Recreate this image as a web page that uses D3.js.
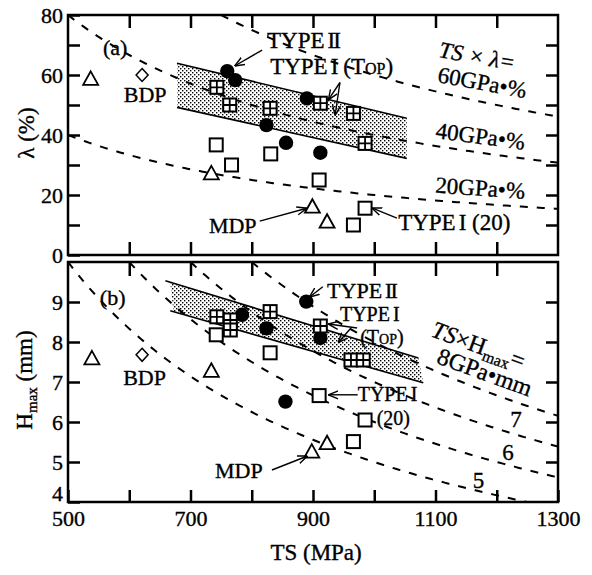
<!DOCTYPE html>
<html lang="en">
<head>
<meta charset="UTF-8">
<title>TS vs elongation and Hmax</title>
<script src="https://d3js.org/d3.v7.min.js"></script>
<style>
  body { margin: 0; background: #fff; }
  svg text { font-family: "Liberation Serif", "Times New Roman", serif; fill: #000; stroke: #000; stroke-width: 0.35; }
  .frame { fill: none; stroke: #000; stroke-width: 2.5; }
  .axis path { display: none; }
  .axis line { stroke: #000; stroke-width: 2.5; }
  .axis text { font-size: 22px; font-family: "Liberation Serif", serif; }
  .guide { fill: none; stroke: #000; stroke-width: 2; stroke-dasharray: 8,9; }
  .band { fill: url(#dots); stroke: none; }
  .bandEdge { fill: none; stroke: #000; stroke-width: 1.6; }
  .lbl { font-size: 23px; }
  .arrow { stroke: #000; stroke-width: 1.4; fill: none; }
</style>
</head>
<body>
<script>
// ---- data ----
var tsLabels = [500, 700, 900, 1100, 1300];
var lambdaLabels = [0, 20, 40, 60, 80];
var hLabels = [4, 5, 6, 7, 8, 9];

// TS x lambda = const (MPa x %), TS x Hmax = const (MPa x mm)
var isoA = [20000, 40000, 60000];
var isoB = [5000, 6000, 7000, 8000];

// panel (a): [TS, lambda]
var aTriangle = [[537, 58.7], [734, 27.2], [899, 16.1], [923, 11.1]];
var aDiamond = [[621, 60]];
var aSquare = [[742, 36.7], [767, 30], [831, 33.7], [910, 25], [966, 10], [985, 15.6]];
var aCircle = [[760, 61.3], [773, 58.3], [824, 43.3], [856, 37.4], [890, 52.2], [912, 34.1]];
var aCross = [[743, 55.9], [764, 50], [830, 48.9], [912, 50.6], [966, 47.2], [985, 37.2]];
var aBand = [[678, 63.9], [1053, 45.6], [1053, 32.2], [678, 49.2]];

// panel (b): [TS, Hmax]
var bTriangle = [[539, 7.59], [734, 7.28], [898, 5.26], [923, 5.47]];
var bDiamond = [[621, 7.68]];
var bSquare = [[742, 8.18], [830, 7.73], [910, 6.66], [985, 6.05], [966, 5.51]];
var bCircle = [[784, 8.68], [824, 8.34], [855, 6.51], [889, 9.01], [912, 8.1]];
var bCross = [[743, 8.63], [765, 8.55], [765, 8.3], [830, 8.76], [912, 8.4], [962, 7.55], [982, 7.55]];
var bBand = [[667, 9.5], [1072, 7.6], [1080, 6.98], [672, 8.78]];
var bBandTop = [[659, 9.53], [1072, 7.6]];
var bBandLow = [[667, 8.78], [1080, 6.98]];

var W = 592, H = 575;
var svg = d3.select("body").append("svg").attr("width", W).attr("height", H);

var x = d3.scaleLinear().domain([500, 1300]).range([68, 558]);
var ya = d3.scaleLinear().domain([0, 80]).range([255, 15]);
var yb = d3.scaleLinear().domain([4, 10]).range([502, 262]);

var defs = svg.append("defs");
var pat = defs.append("pattern").attr("id", "dots").attr("patternUnits", "userSpaceOnUse")
    .attr("width", 4).attr("height", 4);
pat.append("rect").attr("width", 4).attr("height", 4).attr("fill", "#fff");
pat.append("rect").attr("x", 0).attr("y", 0).attr("width", 1.4).attr("height", 1.4).attr("fill", "#000");
pat.append("rect").attr("x", 2).attr("y", 2).attr("width", 1.4).attr("height", 1.4).attr("fill", "#000");

defs.append("marker").attr("id", "head").attr("viewBox", "0 0 10 10")
    .attr("refX", 10).attr("refY", 5).attr("markerWidth", 10).attr("markerHeight", 10)
    .attr("markerUnits", "userSpaceOnUse").attr("orient", "auto")
  .append("path").attr("d", "M0,1L10,5L0,9").attr("fill", "none").attr("stroke", "#000").attr("stroke-width", 1.4);

defs.append("clipPath").attr("id", "clipA").append("rect")
    .attr("x", x(500)).attr("y", ya(80)).attr("width", x(1300) - x(500)).attr("height", ya(0) - ya(80));
defs.append("clipPath").attr("id", "clipB").append("rect")
    .attr("x", x(500)).attr("y", yb(10)).attr("width", x(1300) - x(500)).attr("height", yb(4) - yb(10));

var line = function (ys) {
  return d3.line().x(function (d) { return x(d[0]); }).y(function (d) { return ys(d[1]); });
};

function isoCurve(c, ys, top) {
  var t0 = Math.max(500, c / top);
  return d3.range(t0, 1301, 5).map(function (t) { return [t, c / t]; });
}

function panel(ys, clipId, band, bandTop, bandLow, iso, top) {
  var g = svg.append("g").attr("clip-path", "url(#" + clipId + ")");
  g.append("path").attr("class", "band").attr("d", line(ys)(band) + "Z");
  g.append("path").attr("class", "bandEdge").attr("d", line(ys)(bandTop));
  g.append("path").attr("class", "bandEdge").attr("d", line(ys)(bandLow));
  iso.forEach(function (c) {
    g.append("path").attr("class", "guide").attr("d", line(ys)(isoCurve(c, ys, top)));
  });
  return g;
}

function markers(g, ys, tri, dia, sq, circ, cross) {
  g.selectAll(null).data(tri).enter().append("path")
    .attr("d", function (d) {
      var cx = x(d[0]), cy = ys(d[1]);
      return "M" + cx + "," + (cy - 7.5) + "L" + (cx + 7.5) + "," + (cy + 6) + "L" + (cx - 7.5) + "," + (cy + 6) + "Z";
    })
    .attr("fill", "#fff").attr("stroke", "#000").attr("stroke-width", 1.8);
  g.selectAll(null).data(dia).enter().append("path")
    .attr("d", function (d) {
      var cx = x(d[0]), cy = ys(d[1]);
      return "M" + cx + "," + (cy - 6.5) + "L" + (cx + 6) + "," + cy + "L" + cx + "," + (cy + 6.5) + "L" + (cx - 6) + "," + cy + "Z";
    })
    .attr("fill", "#fff").attr("stroke", "#000").attr("stroke-width", 1.5);
  g.selectAll(null).data(circ).enter().append("circle")
    .attr("cx", function (d) { return x(d[0]); }).attr("cy", function (d) { return ys(d[1]); })
    .attr("r", 7.2).attr("fill", "#000");
  g.selectAll(null).data(sq).enter().append("rect")
    .attr("x", function (d) { return x(d[0]) - 6.5; }).attr("y", function (d) { return ys(d[1]) - 6.5; })
    .attr("width", 13).attr("height", 13)
    .attr("fill", "#fff").attr("stroke", "#000").attr("stroke-width", 2);
  var cg = g.selectAll(null).data(cross).enter().append("g")
    .attr("transform", function (d) { return "translate(" + x(d[0]) + "," + ys(d[1]) + ")"; });
  cg.append("rect").attr("x", -6.5).attr("y", -6.5).attr("width", 13).attr("height", 13)
    .attr("fill", "#fff").attr("stroke", "#000").attr("stroke-width", 2);
  cg.append("path").attr("d", "M0,-6.5V6.5M-6.5,0H6.5").attr("stroke", "#000").attr("stroke-width", 1.8);
}

// ---- panel (a) ----
panel(ya, "clipA", aBand, [aBand[0], aBand[1]], [aBand[3], aBand[2]], isoA, 80);
markers(svg.append("g"), ya, aTriangle, aDiamond, aSquare, aCircle, aCross);

// ---- panel (b) ----
panel(yb, "clipB", bBand, bBandTop, bBandLow, isoB, 10);
markers(svg.append("g"), yb, bTriangle, bDiamond, bSquare, bCircle, bCross);

// ---- frames & axes ----
svg.append("rect").attr("class", "frame").attr("x", x(500)).attr("y", ya(80))
  .attr("width", x(1300) - x(500)).attr("height", ya(0) - ya(80));
svg.append("rect").attr("class", "frame").attr("x", x(500)).attr("y", yb(10))
  .attr("width", x(1300) - x(500)).attr("height", yb(4) - yb(10));

var midTs = d3.range(600, 1300, 100);
var allTs = d3.range(500, 1301, 100);

svg.append("g").attr("class", "axis").attr("transform", "translate(" + x(500) + ",0)")
  .call(d3.axisLeft(ya).tickValues(d3.range(0, 81, 10)).tickSize(-12).tickPadding(5)
    .tickFormat(function (d) { return lambdaLabels.indexOf(d) >= 0 ? d : ""; }));
svg.append("g").attr("class", "axis").attr("transform", "translate(" + x(1300) + ",0)")
  .call(d3.axisRight(ya).tickValues(d3.range(10, 80, 10)).tickSize(-12).tickFormat(""));
svg.append("g").attr("class", "axis").attr("transform", "translate(0," + ya(80) + ")")
  .call(d3.axisTop(x).tickValues(midTs).tickSize(-13).tickFormat(""));
svg.append("g").attr("class", "axis").attr("transform", "translate(0," + ya(0) + ")")
  .call(d3.axisBottom(x).tickValues(midTs).tickSize(-13).tickFormat(""));

var lb = svg.append("g").attr("class", "axis").attr("transform", "translate(" + x(500) + ",0)")
  .call(d3.axisLeft(yb).tickValues(hLabels).tickSize(-12).tickPadding(5).tickFormat(d3.format("d")));
lb.selectAll(".tick text").filter(function (d) { return d === 4; }).attr("dy", "-0.05em");
svg.append("g").attr("class", "axis").attr("transform", "translate(" + x(1300) + ",0)")
  .call(d3.axisRight(yb).tickValues([5, 6, 7, 8, 9]).tickSize(-12).tickFormat(""));
svg.append("g").attr("class", "axis").attr("transform", "translate(0," + yb(10) + ")")
  .call(d3.axisTop(x).tickValues(midTs).tickSize(-14).tickFormat(""));
svg.append("g").attr("class", "axis").attr("transform", "translate(0," + yb(4) + ")")
  .call(d3.axisBottom(x).tickValues(allTs).tickSize(-12).tickPadding(8)
    .tickFormat(function (d) { return tsLabels.indexOf(d) >= 0 ? d : ""; }));

// ---- axis titles ----
svg.append("text").attr("class", "lbl").attr("text-anchor", "middle")
  .attr("transform", "translate(34,133) rotate(-90)").text("λ (%)");
var ht = svg.append("text").attr("class", "lbl").attr("text-anchor", "middle")
  .attr("transform", "translate(32,380) rotate(-90)");
ht.append("tspan").text("H");
ht.append("tspan").attr("font-size", 15).attr("dy", 5).text("max");
ht.append("tspan").attr("dy", -5).text(" (mm)");
svg.append("text").attr("class", "lbl").attr("text-anchor", "middle")
  .attr("x", x(905)).attr("y", 560).text("TS (MPa)");

// ---- annotations ----
function label(ys, ts, v, txt, rot, size) {
  var t = svg.append("text").attr("class", "lbl")
    .attr("transform", "translate(" + x(ts) + "," + ys(v) + ")" + (rot ? " rotate(" + rot + ")" : ""));
  if (size) t.style("font-size", size + "px");
  if (txt !== null) t.text(txt);
  return t;
}
function arrow(ys, a, b) {
  svg.append("path").attr("class", "arrow").attr("marker-end", "url(#head)")
    .attr("d", line(ys)([a, b]));
}

label(ya, 557, 66.7, "(a)", 0, 22);
label(ya, 591, 51, "BDP", 0, 22);
var t2 = label(ya, 825, 69, "TYPE");
t2.append("tspan").attr("dx", 3).attr("letter-spacing", -2).text("II");
arrow(ya, [817, 68.3], [772, 63]);
var t1 = label(ya, 830, 60.5, "TYPE");
t1.append("tspan").attr("dx", 3).text("I");
t1.append("tspan").attr("dx", 5).style("font-variant", "small-caps").text("(Top)");
arrow(ya, [944, 57.5], [925, 51.7]);
arrow(ya, [944, 57.5], [936, 46.5]);
label(ya, 730, 7.3, "MDP", 0, 22);
arrow(ya, [813, 11.3], [890, 15.6]);
var t20 = label(ya, 1039, 8.3, "TYPE");
t20.append("tspan").attr("dx", 3).text("I (20)");
arrow(ya, [1037, 12.3], [996, 15.7]);
label(ya, 1104, 66, "TS × λ=", 10).style("font-style", "italic");
label(ya, 1102, 57.7, "60GPa•%", 10.5);
label(ya, 1099, 39, "40GPa•%", 7.5);
label(ya, 1099, 20.8, "20GPa•%", 4);

label(yb, 552, 8.93, "(b)", 0, 22);
label(yb, 590, 6.93, "BDP", 0, 22);
label(yb, 740, 4.6, "MDP", 0, 22);
arrow(yb, [833, 4.8], [891, 5.15]);
var u2 = label(yb, 923, 9.1, "TYPE", 0, 22);
u2.append("tspan").attr("dx", 3).attr("letter-spacing", -2).text("II");
arrow(yb, [916, 9.38], [894, 9.12]);
var u1 = label(yb, 944, 8.52, "TYPE", 0, 20);
u1.append("tspan").attr("dx", 3).text("I");
label(yb, 977, 7.95, "(Top)", 0, 20).style("font-variant", "small-caps");
arrow(yb, [972, 8.35], [925, 8.45]);
arrow(yb, [962, 8.35], [941, 7.98]);
var u20 = label(yb, 973, 6.52, "TYPE", 0, 20);
u20.append("tspan").attr("dx", 3).text("I");
label(yb, 1004, 5.93, "(20)", 0, 20);
arrow(yb, [973, 6.68], [925, 6.68]);
var ub = label(yb, 1091, 8.15, null, 20, 24);
ub.append("tspan").style("font-style", "italic").text("TS");
ub.append("tspan").text("×H");
ub.append("tspan").attr("font-size", 16).attr("dy", 5).text("max");
ub.append("tspan").attr("dy", -5).text("=");
label(yb, 1100, 7.48, "8GPa•mm", 20, 24);
label(yb, 1222, 5.88, "7");
label(yb, 1209, 5.05, "6");
label(yb, 1161, 4.35, "5");
</script>
</body>
</html>
